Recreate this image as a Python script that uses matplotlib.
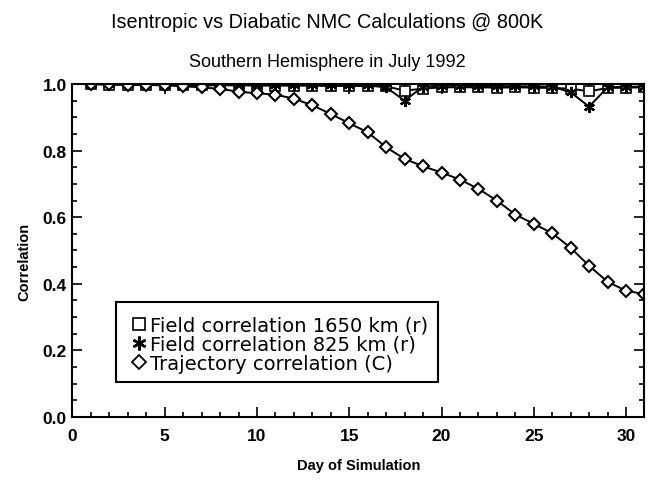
import matplotlib
matplotlib.use("Agg")
import matplotlib.pyplot as plt
from matplotlib.lines import Line2D
from matplotlib.patches import Rectangle
from matplotlib.ticker import MultipleLocator, FormatStrFormatter

# Daily correlations over the 31-day run
days = list(range(1, 32))

field_1650 = [1.0, 0.998, 0.998, 0.997, 0.997, 0.997, 0.996, 0.996, 0.996, 0.995,
              0.995, 0.995, 0.995, 0.994, 0.994, 0.994, 0.993, 0.980, 0.986, 0.990,
              0.990, 0.990, 0.989, 0.990, 0.989, 0.988, 0.986, 0.978, 0.988, 0.989,
              0.990]
field_825 = [1.0, 0.999, 0.999, 0.999, 0.998, 0.998, 0.998, 0.998, 0.997, 0.997,
             0.997, 0.997, 0.996, 0.996, 0.996, 0.996, 0.990, 0.950, 0.992, 0.995,
             0.995, 0.994, 0.994, 0.993, 0.993, 0.992, 0.975, 0.932, 0.990, 0.992,
             0.992]
trajectory = [1.0, 0.999, 0.998, 0.997, 0.996, 0.993, 0.990, 0.985, 0.977, 0.972,
              0.968, 0.956, 0.936, 0.910, 0.882, 0.855, 0.810, 0.775, 0.753, 0.734,
              0.713, 0.685, 0.650, 0.608, 0.580, 0.552, 0.508, 0.454, 0.406, 0.379,
              0.369]

legend_labels = ["Field correlation 1650 km (r)",
                 "Field correlation 825 km (r)",
                 "Trajectory correlation (C)"]

fig = plt.figure(figsize=(6.49, 4.81), dpi=100)
ax = fig.add_axes([0.1117, 0.131, 0.8813, 0.6923])

style = dict(color="black", lw=1.4)
ax.plot(days, field_1650, marker="s", ms=6.5, mfc="white", mec="black", mew=1.2, **style)
ax.plot(days, field_825, **style)
ax.plot(days, field_825, ls="none", marker=(6, 2, 0), ms=8, mec="black", mew=1.6)
ax.plot(days, trajectory, marker="D", ms=6, mfc="white", mec="black", mew=1.5, **style)

ax.set_xlim(0, 31)
ax.set_ylim(0, 1.0)
ax.xaxis.set_major_locator(MultipleLocator(5))
ax.xaxis.set_minor_locator(MultipleLocator(1))
ax.yaxis.set_major_locator(MultipleLocator(0.2))
ax.yaxis.set_minor_locator(MultipleLocator(0.05))
ax.yaxis.set_major_formatter(FormatStrFormatter("%.1f"))
ax.tick_params(which="both", direction="in", top=True, right=True, width=1.2)
ax.tick_params(which="major", length=7)
ax.tick_params(which="minor", length=3.5)
ax.tick_params(axis="x", pad=8)
ax.tick_params(axis="y", pad=4)
for lbl in ax.get_xticklabels() + ax.get_yticklabels():
    lbl.set_fontfamily("Liberation Sans")
    lbl.set_fontweight("bold")
    lbl.set_fontsize(12.5)
for sp in ax.spines.values():
    sp.set_linewidth(1.5)

ax.set_xlabel("Day of Simulation", fontfamily="Liberation Sans", fontweight="bold",
              fontsize=10.5, labelpad=11)
ax.set_ylabel("Correlation", fontfamily="Liberation Sans", fontweight="bold",
              fontsize=10.5)
ax.yaxis.set_label_coords(-0.072, 0.47)

fig.text(0.504, 0.954, "Isentropic vs Diabatic NMC Calculations @ 800K",
         ha="center", va="center", fontfamily="Liberation Sans", fontsize=14.3)
fig.text(0.504, 0.871, "Southern Hemisphere in July 1992",
         ha="center", va="center", fontfamily="Liberation Sans", fontsize=13)

# legend box drawn separately so the padding can be uneven
ax.add_patch(Rectangle((0.076, 0.105), 0.563, 0.24, transform=ax.transAxes,
                       fill=False, ec="black", lw=1.5, zorder=5))
handles = [
    Line2D([], [], ls="none", marker="s", ms=9, mfc="white", mec="black", mew=1.2),
    Line2D([], [], ls="none", marker=(6, 2, 0), ms=10, mec="black", mew=1.8),
    Line2D([], [], ls="none", marker="D", ms=7, mfc="white", mec="black", mew=1.3),
]
ax.legend(handles, legend_labels, loc="center left",
          bbox_to_anchor=(0.106, 0.218), frameon=False,
          handlelength=0.6, handletextpad=0.26, labelspacing=0.0,
          borderpad=0, borderaxespad=0,
          prop={"family": "DejaVu Sans", "size": 14})

fig.savefig("out.png", dpi=100)
